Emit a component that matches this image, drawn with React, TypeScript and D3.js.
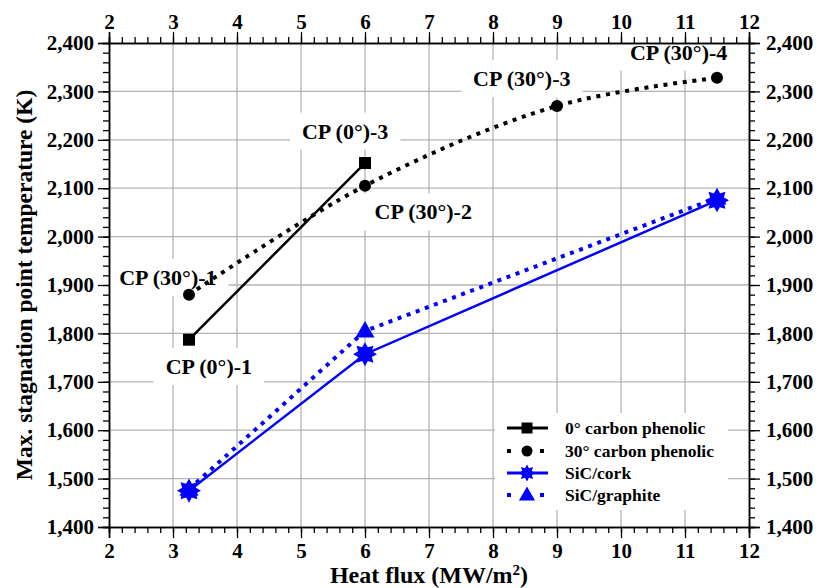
import React, { useEffect, useRef } from "react";
import * as d3 from "d3";

const xTicks = [2, 3, 4, 5, 6, 7, 8, 9, 10, 11, 12];
const yTicks = [1400, 1500, 1600, 1700, 1800, 1900, 2000, 2100, 2200, 2300, 2400];

const xCP0 = [3.25, 6];
const yCP0 = [1787, 2152];
const xCP30 = [3.25, 6, 9, 11.5];
const yCP30 = [1880, 2105, 2270, 2328];
const xSiC = [3.25, 6, 11.5];
const ySiCCork = [1475, 1757, 2075];
const ySiCGraphite = [1478, 1805, 2080];

const annoText = ["CP (30°)-1", "CP (0°)-1", "CP (0°)-3", "CP (30°)-2", "CP (30°)-3", "CP (30°)-4"];
const annoX = [2.92, 3.56, 5.69, 6.91, 8.45, 10.9];
const annoY = [1916, 1731, 2218, 2051, 2326, 2381];

const legendLabels = ["0° carbon phenolic", "30° carbon phenolic", "SiC/cork", "SiC/graphite"];

const W = 819, H = 588;
const M = { left: 109, right: 749, top: 43, bottom: 527 };
const FONT = "'Liberation Serif', 'Times New Roman', serif";
const BLUE = "#0000ff";

function starPath(ro: number, ri: number, n: number) {
  const pts: [number, number][] = [];
  for (let i = 0; i < 2 * n; i++) {
    const r = i % 2 === 0 ? ro : ri;
    const a = (Math.PI * i) / n - Math.PI / 2;
    pts.push([r * Math.cos(a), r * Math.sin(a)]);
  }
  return "M" + pts.map((p) => p.join(",")).join("L") + "Z";
}

export default function App() {
  const ref = useRef<SVGSVGElement>(null);
  useEffect(() => {
    const svg = d3.select(ref.current);
    svg.selectAll("*").remove();
    const x = d3.scaleLinear().domain([2, 12]).range([M.left, M.right]);
    const y = d3.scaleLinear().domain([1400, 2400]).range([M.bottom, M.top]);

    // grid
    const g = svg.append("g");
    g.selectAll(".gx").data(xTicks.slice(1, -1)).enter().append("line")
      .attr("x1", (d) => x(d)).attr("x2", (d) => x(d)).attr("y1", M.top).attr("y2", M.bottom)
      .attr("stroke", "#b4b4b4").attr("stroke-width", 1.3);
    g.selectAll(".gy").data(yTicks.slice(1, -1)).enter().append("line")
      .attr("y1", (d) => y(d)).attr("y2", (d) => y(d)).attr("x1", M.left).attr("x2", M.right)
      .attr("stroke", "#b4b4b4").attr("stroke-width", 1.3);

    // annotation background boxes (under data) and legend box
    const boxG = svg.append("g");
    const legX = 495, legY = 413, legW = 233, legH = 97;
    svg.append("rect").attr("x", legX).attr("y", legY).attr("width", legW).attr("height", legH).attr("fill", "#fff");

    // axes
    const axG = svg.append("g");
    const TF = 21;
    const bottom = d3.axisBottom(x).tickValues(d3.range(2, 12.001, 0.2)).tickSize(6).tickFormat(() => "");
    const top = d3.axisTop(x).tickValues(d3.range(2, 12.001, 0.2)).tickSize(6).tickFormat(() => "");
    const left = d3.axisLeft(y).tickValues(d3.range(1400, 2400.1, 20)).tickSize(6).tickFormat(() => "");
    const right = d3.axisRight(y).tickValues(d3.range(1400, 2400.1, 20)).tickSize(6).tickFormat(() => "");
    const bMaj = d3.axisBottom(x).tickValues(xTicks).tickSize(11).tickPadding(5).tickFormat(d3.format("d"));
    const tMaj = d3.axisTop(x).tickValues(xTicks).tickSize(11).tickPadding(3).tickFormat(d3.format("d"));
    const lMaj = d3.axisLeft(y).tickValues(yTicks).tickSize(11).tickPadding(4).tickFormat(d3.format(","));
    const rMaj = d3.axisRight(y).tickValues(yTicks).tickSize(11).tickPadding(6).tickFormat(d3.format(","));
    const place = (ax: any, tr: string) => {
      const s = axG.append("g").attr("transform", tr).call(ax);
      s.selectAll("path").attr("stroke", "#000").attr("stroke-width", 1.5);
      s.selectAll("line").attr("stroke", "#000").attr("stroke-width", 1.3);
      s.selectAll("text").attr("fill", "#000").attr("font-family", FONT).attr("font-weight", "bold").attr("font-size", TF);
      return s;
    };
    place(bottom, `translate(0,${M.bottom})`);
    place(top, `translate(0,${M.top})`);
    place(left, `translate(${M.left},0)`);
    place(right, `translate(${M.right},0)`);
    place(bMaj, `translate(0,${M.bottom})`);
    place(tMaj, `translate(0,${M.top})`);
    place(lMaj, `translate(${M.left},0)`);
    place(rMaj, `translate(${M.right},0)`);

    // axis titles
    const xt = svg.append("text").attr("x", (M.left + M.right) / 2).attr("y", 583)
      .attr("text-anchor", "middle").attr("font-family", FONT).attr("font-weight", "bold").attr("font-size", 24);
    xt.append("tspan").text("Heat flux (MW/m");
    xt.append("tspan").attr("baseline-shift", "super").attr("font-size", 15).text("2");
    xt.append("tspan").text(")");
    svg.append("text").attr("transform", `translate(32,${(M.top + M.bottom) / 2}) rotate(-90)`)
      .attr("text-anchor", "middle").attr("font-family", FONT).attr("font-weight", "bold").attr("font-size", 23.5)
      .text("Max. stagnation point temperature (K)");

    // lines
    const lineStraight = d3.line<[number, number]>().x((d) => x(d[0])).y((d) => y(d[1]));
    const lineCurve = d3.line<[number, number]>().x((d) => x(d[0])).y((d) => y(d[1])).curve(d3.curveCatmullRom.alpha(0.5));
    const zip = (a: number[], b: number[]) => a.map((v, i) => [v, b[i]] as [number, number]);

    const dataG = svg.append("g");
    dataG.append("path").attr("d", lineStraight(zip(xCP0, yCP0))).attr("fill", "none").attr("stroke", "#000").attr("stroke-width", 2.5);
    dataG.append("path").attr("d", lineCurve(zip(xCP30, yCP30))).attr("fill", "none").attr("stroke", "#000")
      .attr("stroke-width", 4).attr("stroke-dasharray", "4 5.7");
    dataG.append("path").attr("d", lineStraight(zip(xSiC, ySiCCork))).attr("fill", "none").attr("stroke", BLUE).attr("stroke-width", 2.5);
    dataG.append("path").attr("d", lineStraight(zip(xSiC, ySiCGraphite))).attr("fill", "none").attr("stroke", BLUE)
      .attr("stroke-width", 4).attr("stroke-dasharray", "4 5.7");

    // markers
    const sq = (s: any, px: number, py: number, size: number) =>
      s.append("rect").attr("x", px - size / 2).attr("y", py - size / 2).attr("width", size).attr("height", size).attr("fill", "#000");
    const circ = (s: any, px: number, py: number, r: number) =>
      s.append("circle").attr("cx", px).attr("cy", py).attr("r", r).attr("fill", "#000");
    const star = (s: any, px: number, py: number, ro: number) =>
      s.append("path").attr("d", starPath(ro, ro * 0.62, 8)).attr("transform", `translate(${px},${py})`).attr("fill", BLUE);
    const tri = (s: any, px: number, py: number, r: number) =>
      s.append("path").attr("d", `M0,${-r}L${r * 0.95},${r * 0.65}L${-r * 0.95},${r * 0.65}Z`).attr("transform", `translate(${px},${py})`).attr("fill", BLUE);

    xSiC.forEach((v, i) => tri(dataG, x(v), y(ySiCGraphite[i]), 10));
    xSiC.forEach((v, i) => star(dataG, x(v), y(ySiCCork[i]), 12));
    xCP30.forEach((v, i) => circ(dataG, x(v), y(yCP30[i]), 6));
    xCP0.forEach((v, i) => sq(dataG, x(v), y(yCP0[i]), 12));

    // annotations
    const textG = svg.append("g");
    annoText.forEach((t, i) => {
      const tx = textG.append("text").attr("x", x(annoX[i])).attr("y", y(annoY[i]))
        .attr("text-anchor", "middle").attr("dominant-baseline", "central")
        .attr("font-family", FONT).attr("font-weight", "bold").attr("font-size", 22).attr("fill", "#000").text(t);
      const bb = (tx.node() as SVGTextElement).getBBox();
      boxG.append("rect").attr("x", bb.x - 12).attr("y", bb.y - 6).attr("width", bb.width + 24).attr("height", bb.height + 12).attr("fill", "#fff");
    });

    // legend
    const lg = svg.append("g");
    const rows = [428, 451, 473, 495];
    const lx0 = 507, lx1 = 548, lm = 527;
    legendLabels.forEach((lab, i) => {
      const ry = rows[i];
      const dotted = i === 1 || i === 3;
      const col = i < 2 ? "#000" : BLUE;
      lg.append("line").attr("x1", lx0).attr("x2", lx1).attr("y1", ry).attr("y2", ry).attr("stroke", col)
        .attr("stroke-width", dotted ? 4 : 3).attr("stroke-dasharray", dotted ? "4 12.5" : null);
      if (i === 0) sq(lg, lm, ry, 11);
      if (i === 1) circ(lg, lm, ry, 5.5);
      if (i === 2) star(lg, lm, ry, 8.5);
      if (i === 3) tri(lg, lm, ry, 8.5);
      lg.append("text").attr("x", 565).attr("y", ry).attr("dominant-baseline", "central")
        .attr("font-family", FONT).attr("font-weight", "bold").attr("font-size", 17.5).text(lab);
    });
  }, []);
  return <svg ref={ref} width={W} height={H} style={{ display: "block", position: "absolute", left: 0, top: 0, background: "#fff" }} />;
}
